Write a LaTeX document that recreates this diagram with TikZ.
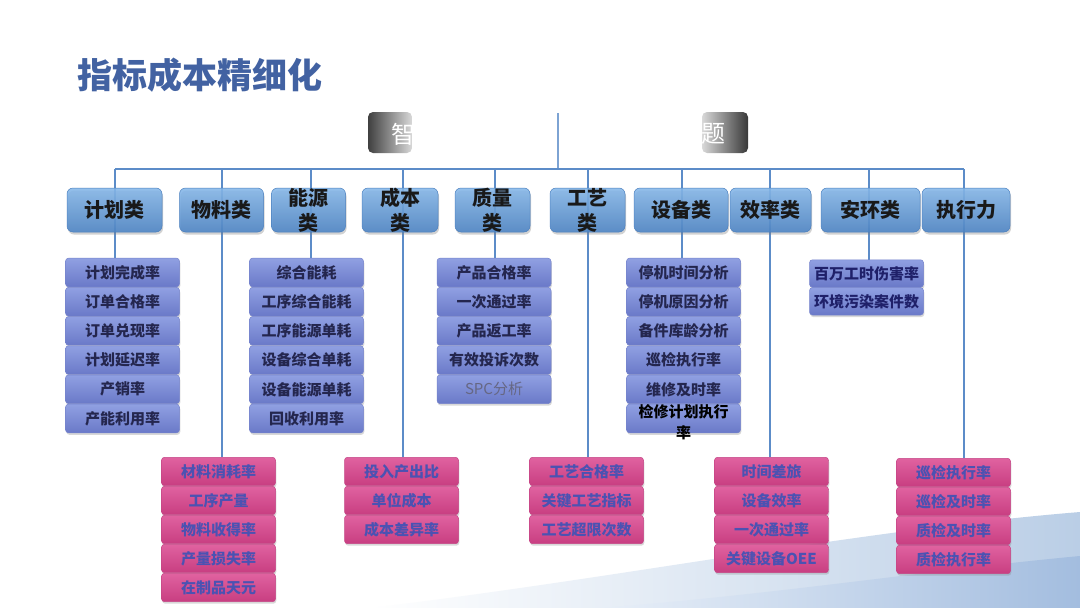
\documentclass[tikz,border=0pt]{standalone}
\usepackage{fontspec}
\newfontfamily\cjk{Noto Sans CJK SC}
\usetikzlibrary{shadows}
\pgfdeclarelayer{bg}
\pgfsetlayers{bg,main}
\definecolor{titleblue}{HTML}{4262A2}
\definecolor{linec}{HTML}{5C8CC8}
\definecolor{catT}{HTML}{86B8EA}
\definecolor{catB}{HTML}{4C84C5}
\definecolor{catD}{HTML}{4A7FBE}
\definecolor{bT}{HTML}{90A0E2}
\definecolor{bB}{HTML}{6A79C8}
\definecolor{bD}{HTML}{7684CC}
\definecolor{pT}{HTML}{E062A0}
\definecolor{pB}{HTML}{C83E81}
\definecolor{pD}{HTML}{C54686}
\definecolor{btext}{HTML}{24264E}
\definecolor{ptext}{HTML}{4B52B2}
\definecolor{bgL}{HTML}{E8EFF8}
\definecolor{bgR}{HTML}{BACEE6}
\definecolor{bgD}{HTML}{A3BDDF}
\newcommand\twol[3]{\raisebox{#3}[0pt][0pt]{\begin{tabular}{@{}c@{}}#1\\#2\end{tabular}}}
\tikzset{
  conn/.style={draw=linec, line width=2.4pt},
  catbox/.style={rounded corners=6pt, draw=catD, line width=0.5pt, top color=catT, bottom color=catB,
    fill opacity=0.88, text opacity=1, minimum height=44pt, inner sep=0pt, text=black!90,
    font=\cjk\bfseries\fontsize{20}{25}\selectfont,
    drop shadow={shadow xshift=1pt, shadow yshift=-2.5pt, opacity=0.35}},
  bitem/.style={rounded corners=3pt, draw=bD, line width=0.5pt, top color=bT, bottom color=bB,
    minimum width=114pt, minimum height=28.6pt, inner sep=0pt, text=btext,
    font=\cjk\bfseries\fontsize{15}{21}\selectfont,
    drop shadow={shadow xshift=0.8pt, shadow yshift=-2pt, opacity=0.3}},
  pitem/.style={rounded corners=3pt, draw=pD, line width=0.5pt, top color=pT, bottom color=pB,
    minimum width=114pt, minimum height=28.4pt, inner sep=0pt, text=ptext,
    font=\cjk\bfseries\fontsize{15}{21}\selectfont,
    drop shadow={shadow xshift=0.8pt, shadow yshift=-2pt, opacity=0.3}},
}
\begin{document}
\begin{tikzpicture}[x=1pt,y=-1pt]
\useasboundingbox (0,0) rectangle (1080,608);
\begin{pgfonlayer}{bg}
\fill[white] (0,0) rectangle (1080,608);
\shade[left color=white, right color=bgR] (370,608) .. controls (620,578) and (860,530) .. (1080,512) -- (1080,608) -- cycle;
\shade[left color=bgL, right color=bgD] (600,608) .. controls (780,594) and (930,570) .. (1080,556) -- (1080,608) -- cycle;
\end{pgfonlayer}
% title
\node[anchor=west, text=titleblue, font=\cjk\bfseries\fontsize{35}{40}\selectfont, inner sep=0pt] (title) at (77,75) {指标成本精细化};
% header
\shade[rounded corners=5pt, left color=black!75, right color=black!15] (368,112) rectangle (412,153);
\shade[rounded corners=5pt, left color=black!15, right color=black!78] (702,112) rectangle (748,153);
\node[text=white, font=\cjk\fontsize{24}{28}\selectfont, inner sep=0pt] (hdrL) at (403,134) {智};
\node[text=white, font=\cjk\fontsize{24}{28}\selectfont, inner sep=0pt] (hdrR) at (713,134) {题};
\coordinate (hdrC) at (558,113);
% bus points
\coordinate (b1) at (115,169);
\coordinate (b2) at (222,169);
\coordinate (b3) at (311,169);
\coordinate (b4) at (403,169);
\coordinate (b5) at (495,169);
\coordinate (b6) at (588,169);
\coordinate (b7) at (682,169);
\coordinate (b8) at (770,169);
\coordinate (b9) at (869,169);
\coordinate (b10) at (964,169);
\coordinate (bc) at (558,169);
% categories
\node[catbox, minimum width=95pt] (k1) at (114.5,210) {计划类};
\node[catbox, minimum width=84pt] (k2) at (221.5,210) {物料类};
\node[catbox, minimum width=74pt] (k3) at (308.5,210) {\twol{能源}{类}{-8pt}};
\node[catbox, minimum width=76pt] (k4) at (400,210) {\twol{成本}{类}{-8pt}};
\node[catbox, minimum width=75pt] (k5) at (492.5,210) {\twol{质量}{类}{-8pt}};
\node[catbox, minimum width=75pt] (k6) at (587.5,210) {\twol{工艺}{类}{-8pt}};
\node[catbox, minimum width=94pt] (k7) at (681,210) {设备类};
\node[catbox, minimum width=81pt] (k8) at (770.5,210) {效率类};
\node[catbox, minimum width=99pt] (k9) at (870.5,210) {安环类};
\node[catbox, minimum width=88pt] (k10) at (966,210) {执行力};
% list items
\foreach \t [count=\i] in {计划完成率,订单合格率,订单兑现率,计划延迟率,产销率,产能利用率}
  \node[bitem] (jh\i) at (122.5,{272.5+29.2*(\i-1)}) {\t};
\foreach \t [count=\i] in {综合能耗,工序综合能耗,工序能源单耗,设备综合单耗,设备能源单耗,回收利用率}
  \node[bitem] (ny\i) at (306.5,{272.5+29.2*(\i-1)}) {\t};
\foreach \t [count=\i] in {产品合格率,一次通过率,产品返工率,有效投诉次数}
  \node[bitem] (zl\i) at (494,{272.5+29.2*(\i-1)}) {\t};
\node[bitem, font=\cjk\fontsize{15}{21}\selectfont, text=btext!70] (zl5) at (494,{272.5+29.2*4}) {SPC分析};
\foreach \t [count=\i] in {停机时间分析,停机原因分析,备件库龄分析,巡检执行率,维修及时率}
  \node[bitem] (sb\i) at (683.5,{272.5+29.2*(\i-1)}) {\t};
\node[bitem, text=black] (sb6) at (683.5,{272.5+29.2*5}) {\twol{检修计划执行}{率}{-8.75pt}};
\foreach \t [count=\i] in {百万工时伤害率,环境污染案件数}
  \node[bitem, minimum height=27.5pt, text=btext!85!blue] (ah\i) at (866.5,{273.5+27.8*(\i-1)}) {\t};
\foreach \t [count=\i] in {材料消耗率,工序产量,物料收得率,产量损失率,在制品天元}
  \node[pitem] (wl\i) at (218.5,{471.5+29*(\i-1)}) {\t};
\foreach \t [count=\i] in {投入产出比,单位成本,成本差异率}
  \node[pitem] (cb\i) at (401.5,{471.5+29*(\i-1)}) {\t};
\foreach \t [count=\i] in {工艺合格率,关键工艺指标,工艺超限次数}
  \node[pitem] (gy\i) at (586.5,{471.5+29*(\i-1)}) {\t};
\foreach \t [count=\i] in {时间差旅,设备效率,一次通过率,关键设备OEE}
  \node[pitem] (xl\i) at (771.5,{471.5+29*(\i-1)}) {\t};
\foreach \t [count=\i] in {巡检执行率,巡检及时率,质检及时率,质检执行率}
  \node[pitem] (zx\i) at (953.5,{472.5+29*(\i-1)}) {\t};
% connectors on background layer
\begin{pgfonlayer}{bg}
\draw[conn, line width=2pt, linec!80] (hdrC) -- (bc);
\draw[conn] (b1) -- (b10);
\draw[conn] (b1) -- (b1 |- jh1.north);
\draw[conn] (b2) -- (b2 |- wl1.north);
\draw[conn] (b3) -- (b3 |- ny1.north);
\draw[conn] (b4) -- (b4 |- cb1.north);
\draw[conn] (b5) -- (b5 |- zl1.north);
\draw[conn] (b6) -- (b6 |- gy1.north);
\draw[conn] (b7) -- (b7 |- sb1.north);
\draw[conn] (b8) -- (b8 |- xl1.north);
\draw[conn] (b9) -- (b9 |- ah1.north);
\draw[conn] (b10) -- (b10 |- zx1.north);
\end{pgfonlayer}
\end{tikzpicture}
\end{document}
